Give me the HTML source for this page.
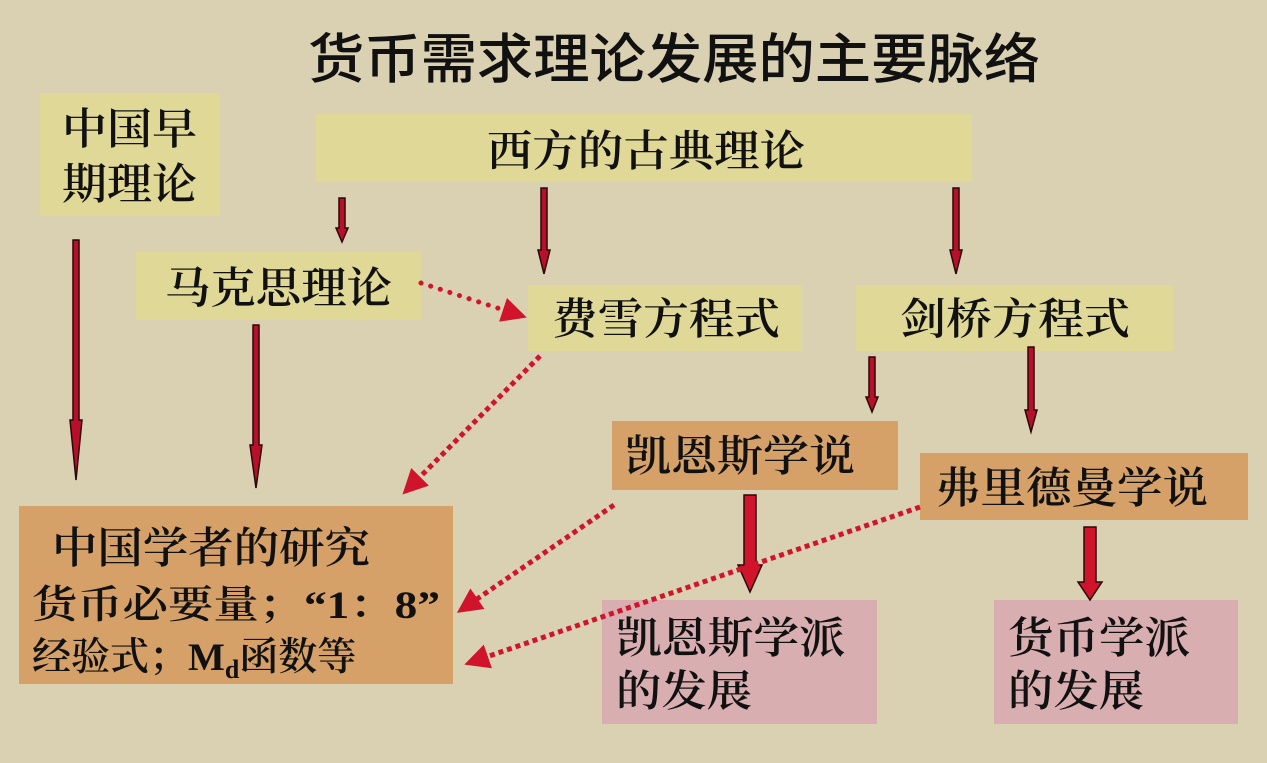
<!DOCTYPE html>
<html><head><meta charset="utf-8"><style>
html,body{margin:0;padding:0;background:#dad1b3;}
svg{display:block}
text{font-family:"Liberation Serif","Noto Serif CJK SC",serif;fill:#111;font-weight:600;}
</style></head><body>
<svg width="1267" height="763" viewBox="0 0 1267 763" xmlns="http://www.w3.org/2000/svg">
<rect width="1267" height="763" fill="#dad1b3"/>
<defs>
<marker id="ah" markerWidth="5" markerHeight="5" refX="4" refY="2.5" orient="auto" markerUnits="strokeWidth">
<path d="M0,0 L5,2.5 L0,5 z" fill="#d0142c"/></marker>
</defs>
<text x="308" y="78" font-size="54" textLength="732" lengthAdjust="spacingAndGlyphs" style="font-family:'Liberation Sans','Noto Sans CJK SC',sans-serif;font-weight:500">货币需求理论发展的主要脉络</text>

<g fill="#e0d897">
<rect x="40" y="93" width="180" height="123"/>
<rect x="316" y="114" width="656" height="68"/>
<rect x="136" y="252" width="285" height="68"/>
<rect x="528" y="285" width="274" height="66"/>
<rect x="856" y="285" width="317" height="66"/>
</g>
<g fill="#d5a168">
<rect x="612" y="421" width="286" height="69"/>
<rect x="920" y="453" width="328" height="67"/>
<rect x="19" y="506" width="434" height="178"/>
</g>
<g fill="#d9aeb0">
<rect x="602" y="600" width="275" height="124"/>
<rect x="994" y="600" width="244" height="124"/>
</g>

<g font-size="43">
<text x="62" y="144" textLength="135" lengthAdjust="spacingAndGlyphs">中国早</text>
<text x="62" y="199" textLength="135" lengthAdjust="spacingAndGlyphs">期理论</text>
<text x="487" y="166" textLength="318" lengthAdjust="spacingAndGlyphs">西方的古典理论</text>
<text x="165" y="303" textLength="227" lengthAdjust="spacingAndGlyphs">马克思理论</text>
<text x="552" y="334" textLength="228" lengthAdjust="spacingAndGlyphs">费雪方程式</text>
<text x="900" y="334" textLength="230" lengthAdjust="spacingAndGlyphs">剑桥方程式</text>
<text x="625" y="471" textLength="230" lengthAdjust="spacingAndGlyphs">凯恩斯学说</text>
<text x="935" y="503" textLength="273" lengthAdjust="spacingAndGlyphs">弗里德曼学说</text>
<text x="52" y="563" textLength="318" lengthAdjust="spacingAndGlyphs">中国学者的研究</text>
<text x="616" y="653" textLength="229" lengthAdjust="spacingAndGlyphs">凯恩斯学派</text>
<text x="616" y="706" textLength="136" lengthAdjust="spacingAndGlyphs">的发展</text>
<text x="1008" y="653" textLength="182" lengthAdjust="spacingAndGlyphs">货币学派</text>
<text x="1008" y="706" textLength="136" lengthAdjust="spacingAndGlyphs">的发展</text>
</g>
<g font-size="39">
<text x="32" y="618" textLength="408" lengthAdjust="spacingAndGlyphs">货币必要量；“1：8”</text>
<text x="32" y="670">经验式；M<tspan font-size="26" dy="8">d</tspan><tspan dy="-8">函数等</tspan></text>
</g>

<g fill="#b8102a" stroke="#2a0808" stroke-width="1.5">
<polygon points="73,240 79,240 79,420 82,420 76,480 70,420 73,420"/>
<polygon points="253,325 259,325 259,445 262,445 256,488 250,445 253,445"/>
<polygon points="339,198 345,198 345,228 348,228 342,242 336,228 339,228"/>
<polygon points="541,188 547,188 547,250 550,250 544,274 538,250 541,250"/>
<polygon points="953,188 959,188 959,250 962,250 956,274 950,250 953,250"/>
<polygon points="869,357 875,357 875,397 878,397 872,412 866,397 869,397"/>
<polygon points="1028,347 1034,347 1034,410 1037,410 1031,432 1025,410 1028,410"/>
</g>
<g fill="#d0142c" stroke="#2a0808" stroke-width="1.5">
<polygon points="744,495 756,495 756,565 762,565 750,592 738,565 744,565"/>
<polygon points="1084,527 1096,527 1096,582 1102,582 1090,600 1078,582 1084,582"/>
</g>

<g stroke="#d0142c" fill="none">
<line x1="421" y1="283" x2="522" y2="316" stroke-width="5" stroke-linecap="round" stroke-dasharray="0.1 10" marker-end="url(#ah)"/>
<line x1="540" y1="356" x2="406" y2="491" stroke-width="5" stroke-dasharray="5 4" marker-end="url(#ah)"/>
<line x1="614" y1="505" x2="461" y2="610" stroke-width="5" stroke-dasharray="5 4" marker-end="url(#ah)"/>
<line x1="920" y1="507" x2="469" y2="663" stroke-width="5" stroke-dasharray="5 4" marker-end="url(#ah)"/>
</g>
</svg>
</body></html>
